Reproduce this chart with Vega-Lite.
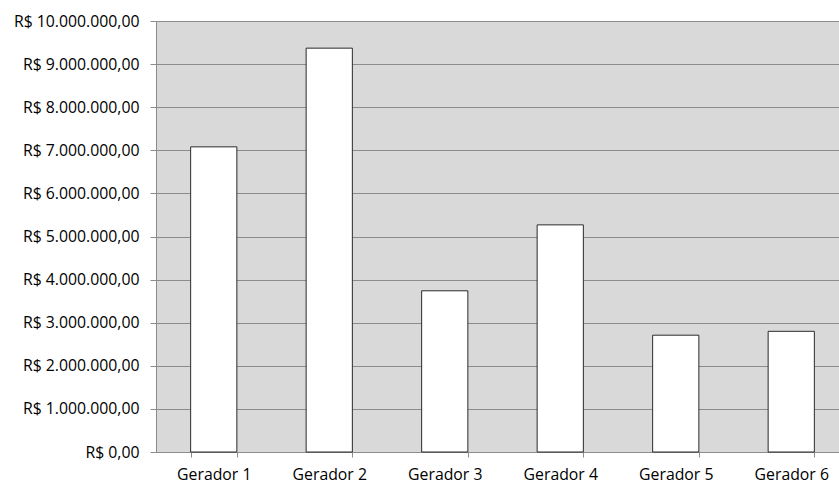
{
  "$schema": "https://vega.github.io/schema/vega-lite/v6.json",
  "autosize": {"type": "none"},
  "padding": {"left": 156, "top": 21, "right": 0, "bottom": 33},
  "width": 693,
  "height": 431,
  "data": {"values": [
    {"gerador": "Gerador 1", "valor": 7080000},
    {"gerador": "Gerador 2", "valor": 9370000},
    {"gerador": "Gerador 3", "valor": 3740000},
    {"gerador": "Gerador 4", "valor": 5270000},
    {"gerador": "Gerador 5", "valor": 2710000},
    {"gerador": "Gerador 6", "valor": 2800000}
  ]},
  "mark": {"type": "bar", "fill": "#ffffff", "stroke": "#2b2b2b", "strokeWidth": 1},
  "encoding": {
    "x": {
      "field": "gerador", "type": "nominal", "sort": null,
      "scale": {"paddingInner": 0.6, "paddingOuter": 0.3},
      "axis": {"title": null, "labelAngle": 0, "tickBand": "extent", "tickSize": 5, "labelPadding": 10, "grid": false, "labelOverlap": false, "domainColor": "#8c8c8c", "tickColor": "#8c8c8c"}
    },
    "y": {
      "field": "valor", "type": "quantitative",
      "scale": {"domain": [0, 10000000], "nice": false},
      "axis": {"title": null, "format": "$,.2f", "values": [0,1000000,2000000,3000000,4000000,5000000,6000000,7000000,8000000,9000000,10000000], "labelOverlap": false, "tickSize": 6, "labelPadding": 11, "grid": true, "gridColor": "#8c8c8c", "gridWidth": 1, "gridOpacity": 1, "domainColor": "#8c8c8c", "tickColor": "#8c8c8c"}
    }
  },
  "config": {
    "locale": {"number": {"decimal": ",", "thousands": ".", "grouping": [3], "currency": ["R$ ", ""]}},
    "view": {"fill": "#d9d9d9", "stroke": null},
    "axis": {"labelFont": "Open Sans", "labelFontSize": 15.8, "labelColor": "#000000", "domainWidth": 1, "tickWidth": 1}
  }
}
